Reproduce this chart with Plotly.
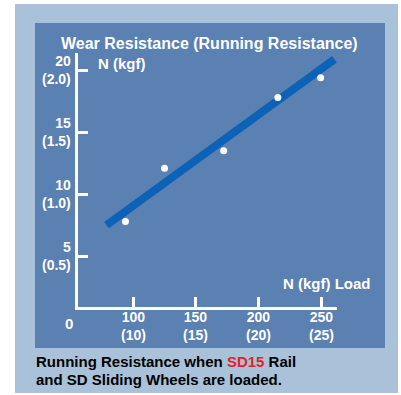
import plotly.graph_objects as go

# measured points (load N, running resistance N)
loads = [94, 125, 172, 215, 249]
resistance = [7.8, 12.1, 13.5, 17.8, 19.4]

# trend line end points
trend_x = [79, 260]
trend_y = [7.5, 20.9]

x_ticks = [100, 150, 200, 250]
x_kgf = ["(10)", "(15)", "(20)", "(25)"]
y_ticks = [5, 10, 15, 20]
y_kgf = ["(0.5)", "(1.0)", "(1.5)", "(2.0)"]

W, H = 401, 395
L, R, T, B = 78, 337, 53, 307  # plot area in pixels


def px(x):
    return (x - L) / (R - L)


def py(y):
    return (B - y) / (B - T)


FONT = "Liberation Sans, Arial, sans-serif"
INNER = "#5b80b2"
OUTER = "#a9c2da"

fig = go.Figure()
fig.add_trace(go.Scatter(
    x=trend_x, y=trend_y, mode="lines",
    line=dict(color="#0b62b6", width=8), hoverinfo="skip",
))
fig.add_trace(go.Scatter(
    x=loads, y=resistance, mode="markers",
    marker=dict(color="white", size=7),
))

fig.add_shape(type="rect", xref="paper", yref="paper", layer="below",
              x0=px(15), x1=px(398), y0=py(393), y1=py(4),
              fillcolor=OUTER, line_width=0)
fig.add_shape(type="rect", xref="paper", yref="paper", layer="below",
              x0=px(35), x1=px(385), y0=py(348), y1=py(23),
              fillcolor=INNER, line_width=0)

white = dict(family=FONT, size=15, color="white")
ticks = dict(family=FONT, size=14, color="white")


def note(text, x, y, xanchor="center", yanchor="middle", font=white, **kw):
    fig.add_annotation(text=f"<b>{text}</b>", x=x, y=y, xanchor=xanchor, yanchor=yanchor,
                       showarrow=False, font=font, **kw)


note("Wear Resistance (Running Resistance)", px(209), py(43), xref="paper", yref="paper",
     font=dict(family=FONT, size=16, color="white"))
note("N (kgf)", px(96), py(63), "left", xref="paper", yref="paper")
note("N (kgf) Load", px(373), py(283), "right", xref="paper", yref="paper")
note("0", px(69), py(323), xref="paper", yref="paper")

# two-line tick labels: value in N above, kgf in brackets below
for v, k in zip(y_ticks, y_kgf):
    note(f"{v}<br>{k}", px(73), v, "right", font=ticks, align="right", xref="paper", yref="y")
for v, k in zip(x_ticks, x_kgf):
    note(f"{v}<br>{k}", v, py(325.5), font=ticks, xref="x", yref="paper")

cap = dict(family=FONT, size=15, color="black")
note("Running Resistance when <span style='color:#e8202a'>SD15</span> Rail",
     px(34), py(361), "left", font=cap, xref="paper", yref="paper")
note("and SD Sliding Wheels are loaded.", px(34), py(379), "left", font=cap,
     xref="paper", yref="paper")

axis = dict(showline=True, linecolor="white", linewidth=3, showgrid=False, zeroline=False,
            ticks="inside", ticklen=10, tickwidth=3, tickcolor="white",
            showticklabels=False, automargin=False)
fig.update_xaxes(range=[56.3, 262], tickvals=x_ticks, **axis)
fig.update_yaxes(range=[0.89, 21.4], tickvals=y_ticks, **axis)
fig.update_layout(
    width=W, height=H,
    margin=dict(l=L, r=W - R, t=T, b=H - B),
    paper_bgcolor="white", plot_bgcolor="rgba(0,0,0,0)",
    showlegend=False,
)
fig.write_html("out.html", config={"displayModeBar": False},
               post_script="document.body.style.margin = '0';")
